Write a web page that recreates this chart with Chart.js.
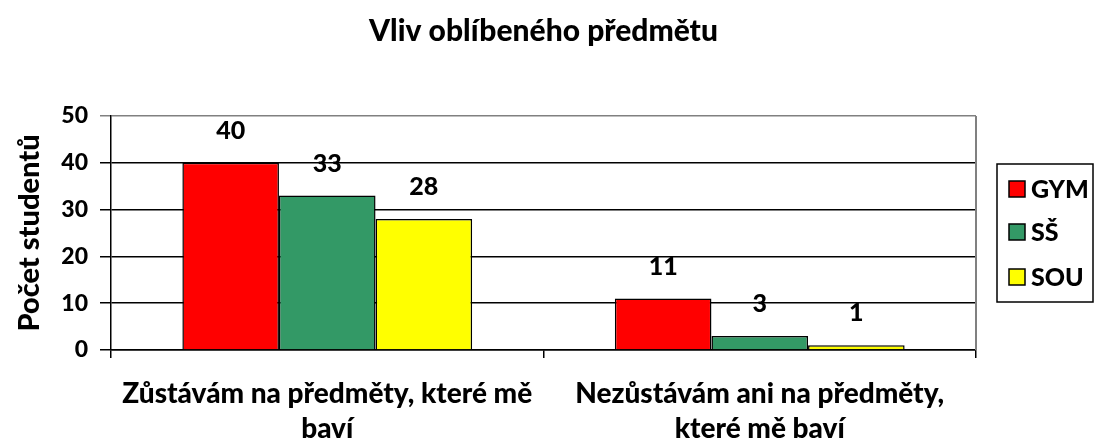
<!DOCTYPE html>
<html>
<head>
<meta charset="utf-8">
<script src="https://cdn.jsdelivr.net/npm/chart.js@4"></script>
<style>
  html, body { margin: 0; padding: 0; background: #fff; }
  #chart { display: block; }
</style>
</head>
<body>
<canvas id="chart" width="1095" height="445"></canvas>
<script>
const titleText = "Vliv oblíbeného předmětu";
const categories = [
  ["Zůstávám na předměty, které mě", "baví"],
  ["Nezůstávám ani na předměty,", "které mě baví"],
];
const seriesNames = ["GYM", "SŠ", "SOU"];
const gymValues = [40, 11];
const ssValues = [33, 3];
const souValues = [28, 1];
const seriesColors = ["#ff0000", "#339966", "#ffff00"];

const FONT = "Lato, 'Open Sans', sans-serif";
const WEIGHT = "900";

const valueLabels = {
  id: "valueLabels",
  afterDatasetsDraw(chart) {
    const { ctx } = chart;
    ctx.save();
    ctx.font = WEIGHT + " 25px " + FONT;
    ctx.fillStyle = "#000";
    ctx.textAlign = "center";
    ctx.textBaseline = "middle";
    chart.data.datasets.forEach((ds, i) => {
      chart.getDatasetMeta(i).data.forEach((bar, j) => {
        ctx.fillText(ds.data[j], bar.x, bar.y - 32);
      });
    });
    ctx.restore();
  },
};

// title centred over the plot area, frame line on the right, legend box
const plotFrame = {
  id: "plotFrame",
  afterDraw(chart) {
    const { ctx, chartArea } = chart;
    ctx.save();
    ctx.fillStyle = "#000";
    ctx.font = WEIGHT + " 30px " + FONT;
    ctx.textAlign = "center";
    ctx.textBaseline = "middle";
    ctx.fillText(titleText, (chartArea.left + chartArea.right) / 2, 31);

    ctx.strokeStyle = "#808080";
    ctx.lineWidth = 2;
    ctx.beginPath();
    ctx.moveTo(chartArea.right, chartArea.top);
    ctx.lineTo(chartArea.right, chartArea.bottom);
    ctx.stroke();

    const lx = 997, ly = 164, lw = 96, lh = 138;
    ctx.strokeStyle = "#000";
    ctx.lineWidth = 1.5;
    ctx.strokeRect(lx, ly, lw, lh);
    ctx.font = WEIGHT + " 25px " + FONT;
    ctx.textAlign = "left";
    const rows = [189, 232, 277];
    chart.data.datasets.forEach((ds, i) => {
      const y = rows[i];
      ctx.fillStyle = ds.backgroundColor;
      ctx.fillRect(1009, y - 8, 16, 16);
      ctx.strokeRect(1009, y - 8, 16, 16);
      ctx.fillStyle = "#000";
      ctx.fillText(ds.label, 1031, y + 1);
    });
    ctx.restore();
  },
};

new Chart(document.getElementById("chart"), {
  type: "bar",
  data: {
    labels: categories,
    datasets: [
      { label: seriesNames[0], data: gymValues, backgroundColor: seriesColors[0] },
      { label: seriesNames[1], data: ssValues, backgroundColor: seriesColors[1] },
      { label: seriesNames[2], data: souValues, backgroundColor: seriesColors[2] },
    ].map((d) => ({
      ...d,
      borderColor: "#000",
      borderWidth: 1.5,
      categoryPercentage: 0.67,
      barPercentage: 1,
    })),
  },
  options: {
    responsive: false,
    animation: false,
    layout: { padding: { right: 119, left: 0, top: 116, bottom: 0 } },
    plugins: {
      legend: { display: false },
      tooltip: { enabled: false },
      title: { display: false },
    },
    scales: {
      x: {
        afterFit(scale) { scale.height = 95; },
        grid: {
          offset: true,
          drawOnChartArea: false,
          drawTicks: true,
          tickLength: 8,
          color: "#000",
          lineWidth: 1.5,
        },
        border: { color: "#000", width: 1.5 },
        ticks: {
          color: "#000",
          maxRotation: 0,
          autoSkip: false,
          padding: 18,
          font: { family: FONT, size: 28, weight: WEIGHT, lineHeight: 1.27 },
        },
      },
      y: {
        min: 0,
        max: 50,
        afterFit(scale) { scale.width = 111; },
        grid: {
          color: (c) => (c.tick && c.tick.value === 50 ? "#808080" : "#000"),
          lineWidth: 1.5,
          tickLength: 11,
        },
        border: { color: "#000", width: 1.5 },
        ticks: {
          stepSize: 10,
          color: "#000",
          padding: 12,
          font: { family: FONT, size: 23, weight: WEIGHT },
        },
        title: {
          display: true,
          text: "Počet studentů",
          color: "#000",
          font: { family: FONT, size: 29, weight: WEIGHT },
          padding: { top: 12, bottom: 0 },
        },
      },
    },
  },
  plugins: [valueLabels, plotFrame],
});
</script>
</body>
</html>
